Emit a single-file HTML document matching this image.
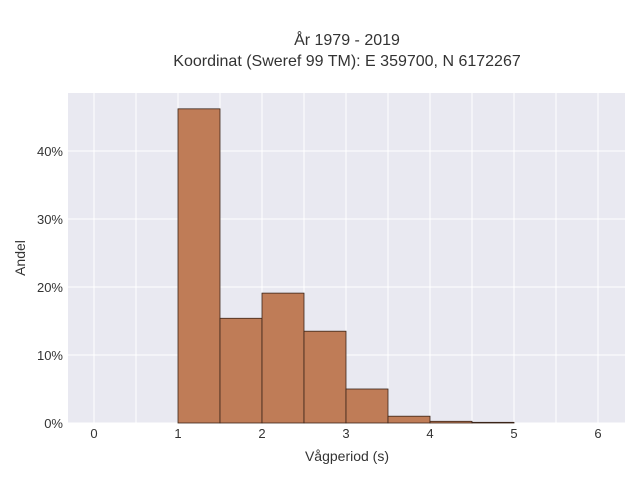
<!DOCTYPE html>
<html><head><meta charset="utf-8"><style>
body{margin:0;background:#fff;font-family:"Liberation Sans",sans-serif;}
svg text{font-family:"Liberation Sans",sans-serif;fill:#333;}
</style></head><body>
<svg id="chart" width="640" height="480">
<text x="347" y="45" text-anchor="middle" font-size="16">År 1979 - 2019</text>
<text x="347" y="66" text-anchor="middle" font-size="16">Koordinat (Sweref 99 TM): E 359700, N 6172267</text>
<rect x="68" y="93" width="557" height="330" fill="#e9e9f1"/>
<g id="grid"></g><g id="bars"></g><g id="ticks"></g>
<text x="347" y="461" text-anchor="middle" font-size="14">Vågperiod (s)</text>
<text transform="translate(25,258) rotate(-90)" text-anchor="middle" font-size="14">Andel</text>
</svg>
<script>
const binStarts=[1,1.5,2,2.5,3,3.5,4,4.5];
const shares=[46.2,15.4,19.1,13.5,5.0,1.0,0.25,0.1];
const xTicks=[0,1,2,3,4,5,6];
const yTicks=[0,10,20,30,40];
const NS="http://www.w3.org/2000/svg";
const X=v=>94+v*84, Y=v=>423-v*6.8;
const g=document.getElementById('grid'),b=document.getElementById('bars'),t=document.getElementById('ticks');
function mk(tag,a,p){const e=document.createElementNS(NS,tag);for(const k in a)e.setAttribute(k,a[k]);p.appendChild(e);return e;}
for(let v=0;v<=6.5;v+=0.5){const l=mk('line',{x1:X(v),x2:X(v),y1:93,y2:423,stroke:'#fff','stroke-width':1},g);

}
yTicks.forEach(v=>{const l=mk('line',{x1:68,x2:625,y1:Y(v),y2:Y(v),stroke:'#fff','stroke-width':1},g);


const tx=mk('text',{x:63,y:Y(v)+5,'text-anchor':'end','font-size':13},t);tx.textContent=v+'%';

});
xTicks.forEach(v=>{const tx=mk('text',{x:X(v),y:438,'text-anchor':'middle','font-size':13},t);tx.textContent=v;

});
binStarts.forEach((s,i)=>{const r=mk('rect',{x:X(s),y:Y(shares[i]),width:42,height:423-Y(shares[i]),fill:'#bf7c57',stroke:'#3a2418','stroke-width':0.8},b);

});
</script>
</body></html>
